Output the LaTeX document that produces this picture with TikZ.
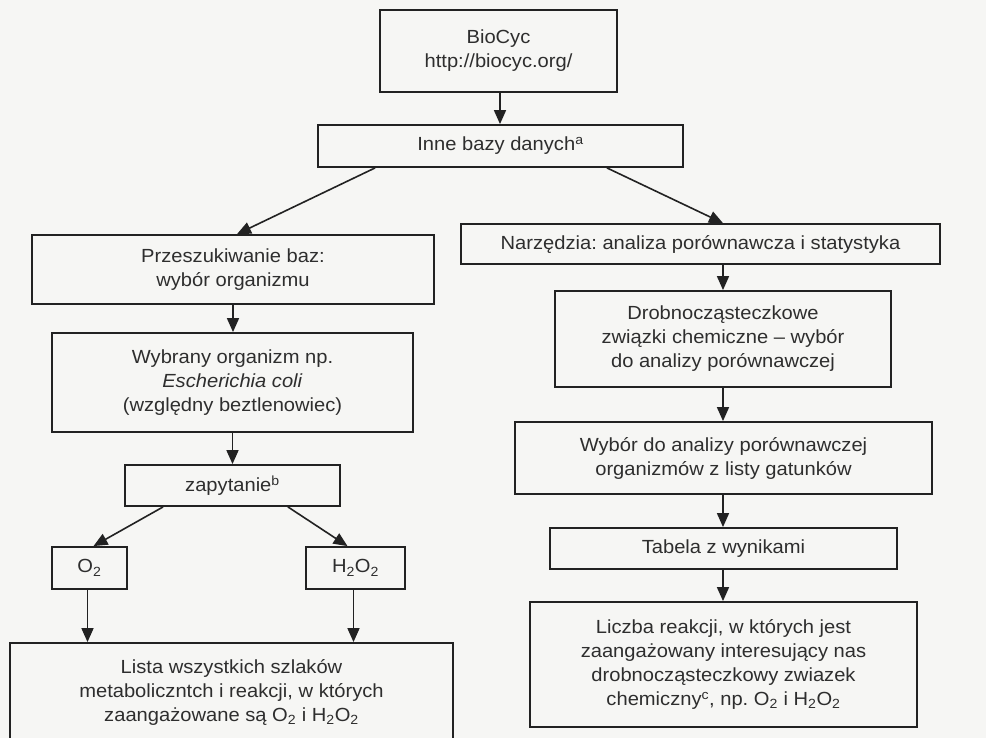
\documentclass[tikz,border=0pt]{standalone}
\usepackage{fontspec}
\setmainfont[FakeStretch=1.06]{Liberation Sans}
\usetikzlibrary{arrows.meta,calc}
\definecolor{linec}{HTML}{222222}
\definecolor{textc}{HTML}{2E2E2E}
\definecolor{bgc}{HTML}{F6F6F4}
\frenchspacing
\begin{document}
\begin{tikzpicture}[x=1pt,y=-1pt,
  box/.style={draw=linec, line width=1.8pt, text=textc, align=center, inner sep=0pt,
    font=\fontsize{19}{24}\selectfont\frenchspacing},
  arr/.style={draw=linec, line width=1.6pt, -{Triangle[length=14pt,width=12pt]}}]
\fill[bgc] (0,0) rectangle (986,738);
\useasboundingbox (0,0) rectangle (986,738);
\node[box, minimum width=237pt, minimum height=82pt] (bio) at (498.5,51) {BioCyc\\http://biocyc.org/};
\node[box, minimum width=365pt, minimum height=42pt] (inne) at (500.5,146) {Inne bazy danych\textsuperscript{a}};
\node[box, minimum width=402pt, minimum height=69pt] (prz) at (233,269.5) {Przeszukiwanie baz:\\wybór organizmu};
\node[box, minimum width=361pt, minimum height=99pt] (wyb) at (232.5,382.5) {Wybrany organizm np.\\\textit{Escherichia coli}\\(względny beztlenowiec)};
\node[box, minimum width=215pt, minimum height=41pt] (zap) at (232.5,485.5) {zapytanie\textsuperscript{b}};
\node[box, minimum width=75pt, minimum height=42pt] (o2) at (89.5,568) {O\textsubscript{2}};
\node[box, minimum width=99pt, minimum height=42pt] (h2o2) at (355.5,568) {H\textsubscript{2}O\textsubscript{2}};
\node[box, minimum width=443pt, minimum height=98pt] (lista) at (231.5,692) {Lista wszystkich szlaków\\metabolicz\-ntch i reakcji, w których\\zaangażowane są O\textsubscript{2} i H\textsubscript{2}O\textsubscript{2}};
\node[box, minimum width=479pt, minimum height=40pt] (narz) at (700.5,244) {Narzędzia: analiza porównawcza i statystyka};
\node[box, minimum width=336pt, minimum height=96pt] (drob) at (723,339) {Drobnocząsteczkowe\\związki chemiczne – wybór\\do analizy porównawczej};
\node[box, minimum width=417pt, minimum height=72pt] (wybor) at (723.5,458) {Wybór do analizy porównawczej\\organizmów z listy gatunków};
\node[box, minimum width=347pt, minimum height=41pt] (tab) at (723.5,548.5) {Tabela z wynikami};
\node[box, minimum width=387pt, minimum height=125pt] (licz) at (723.5,664.5) {Liczba reakcji, w których jest\\zaangażowany interesujący nas\\drobnocząsteczkowy zwiazek\\chemiczny\textsuperscript{c}, np. O\textsubscript{2} i H\textsubscript{2}O\textsubscript{2}};
\draw[arr] (500,92) coordinate (b1) -- (b1 |- inne.north);
\draw[arr] ($(inne.south west)+(58,0)$) -- ($(prz.north)+(4,0)$);
\draw[arr] ($(inne.south east)+(-77,0)$) -- (drob.north |- narz.north);
\draw[arr] (prz.south) -- (prz.south |- wyb.north);
\draw[arr] (wyb.south) -- (wyb.south |- zap.north);
\draw[arr] ($(zap.south west)+(39,0)$) -- ($(o2.north)+(4,0)$);
\draw[arr] ($(zap.south east)+(-53,0)$) -- ($(h2o2.north)+(-8,0)$);
\draw[arr] ($(o2.south)+(-2,0)$) coordinate (c1) -- (c1 |- lista.north);
\draw[arr] ($(h2o2.south)+(-2,0)$) coordinate (c2) -- (c2 |- lista.north);
\draw[arr] (drob.north |- narz.south) -- (drob.north);
\draw[arr] (drob.south) -- (drob.south |- wybor.north);
\draw[arr] (drob.south |- wybor.south) -- (drob.south |- tab.north);
\draw[arr] (drob.south |- tab.south) -- (drob.south |- licz.north);
\end{tikzpicture}
\end{document}
